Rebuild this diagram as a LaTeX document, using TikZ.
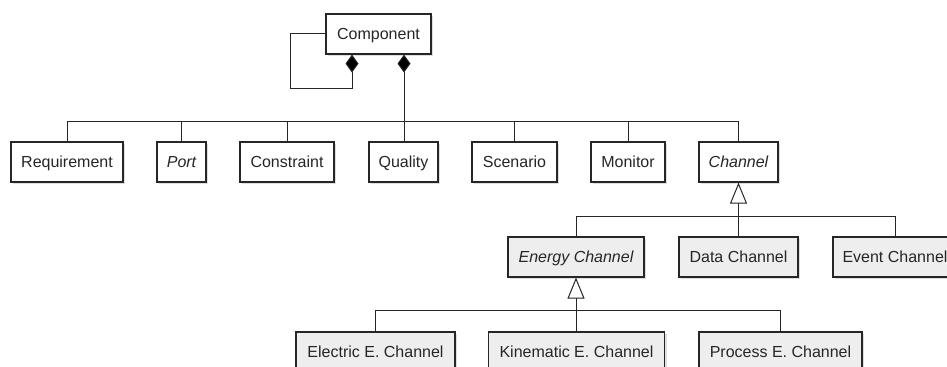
\documentclass[tikz,border=0pt]{standalone}
\usepackage{fontspec}
\setmainfont{Liberation Sans}
\usetikzlibrary{arrows.meta,calc,shadows}
\definecolor{boxgray}{HTML}{EEEEEE}
\definecolor{ink}{HTML}{262626}
\begin{document}
\begin{tikzpicture}[x=0.75pt,y=-0.75pt,
  box/.style={draw=ink, line width=0.9pt, fill=white, minimum height=30pt, inner sep=0pt,
    text height=8.6pt, text depth=0pt,
    text=ink, font=\fontsize{12}{14}\selectfont,
    drop shadow={shadow xshift=1.5pt,shadow yshift=-1.5pt,fill=black!25}},
  gbox/.style={box, fill=boxgray},
  conn/.style={draw=ink, line width=0.75pt},
  gen/.style={conn, -{Triangle[open, length=15.75pt, width=12.75pt, line width=0.75pt]}},
  compo/.style={conn, {Diamond[length=13.5pt, width=9.75pt, fill=black]}-}]
\clip (0,0) rectangle (947,367);
\fill[white] (0,0) rectangle (947,367);
% nodes
\node[box, minimum width=78.75pt] (component) at (378.5,34) {Component};
\node[box, minimum width=84pt] (req) at (67,162) {Requirement};
\node[box, minimum width=36.75pt] (port) at (181.5,162) {\itshape Port};
\node[box, minimum width=70.5pt] (constraint) at (287,162) {Constraint};
\node[box, minimum width=51.75pt] (quality) at (403.5,162) {Quality};
\node[box, minimum width=63.75pt] (scenario) at (514.5,162) {Scenario};
\node[box, minimum width=55.5pt] (monitor) at (628,162) {Monitor};
\node[box, minimum width=59.25pt] (channel) at (738.5,162) {\itshape Channel};
\node[gbox, minimum width=102pt] (energy) at (576,257) {\itshape Energy Channel};
\node[gbox, minimum width=89.25pt] (data) at (738.5,257) {Data Channel};
\node[gbox, minimum width=93pt] (event) at (895,257) {Event Channel};
\node[gbox, minimum width=119.25pt] (electric) at (375.5,352) {Electric E. Channel};
\node[gbox, minimum width=132pt] (kinematic) at (576.5,352) {Kinematic E. Channel};
\node[gbox, minimum width=122.25pt] (process) at (780.5,352) {Process E. Channel};
% bus points
\coordinate (b1) at (404,122);
\coordinate (b2) at (738.5,217);
\coordinate (b3) at (576,311);
% composition
\draw[compo] ($(component.south)+(25.5,0)$) -- (b1);
\draw[compo] ($(component.south)+(-26.5,0)$) -- ++(0,34) -| ($(component.west)+(-35,0)$) -- (component.west);
\foreach \n in {req,port,constraint,scenario,monitor,channel}
  \draw[conn] (\n.north) |- (b1);
\draw[conn] (b1) -- (b1 |- quality.north);
% generalization of channel
\draw[conn] (energy.north) |- (b2);
\draw[conn] (event.north) |- (b2);
\draw[conn] (data.north) -- (b2);
\draw[gen] (b2) -- (channel.south);
% generalization of energy channel
\draw[conn] (electric.north) |- (b3);
\draw[conn] (process.north) |- (b3);
\draw[conn] (b3 |- kinematic.north) -- (b3);
\draw[gen] (b3) -- (energy.south);
\end{tikzpicture}
\end{document}
